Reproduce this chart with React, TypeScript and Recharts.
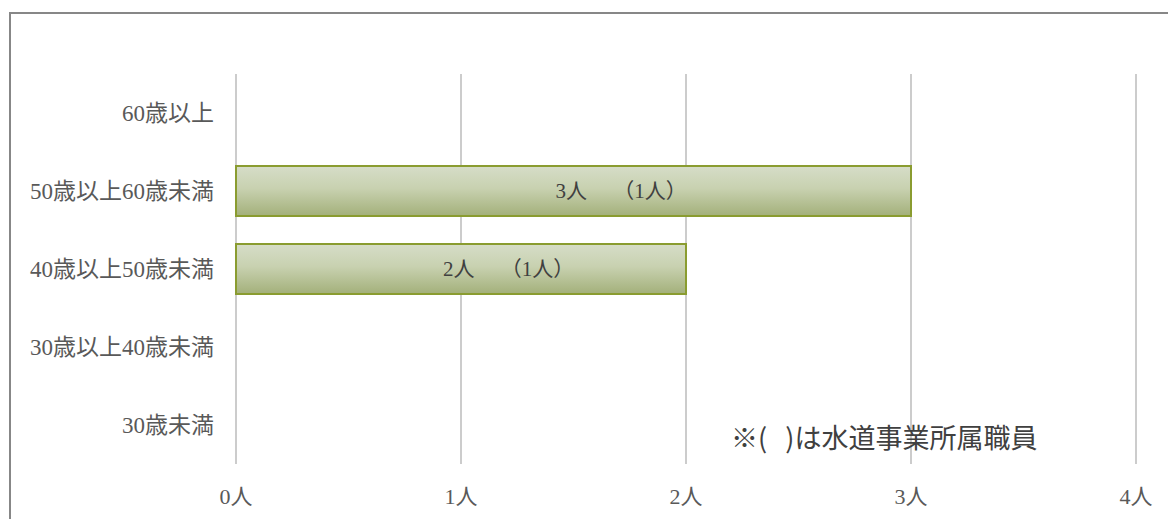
import React from "react";
import { BarChart, Bar, XAxis, YAxis, CartesianGrid, LabelList } from "recharts";

const categories = ["60歳以上", "50歳以上60歳未満", "40歳以上50歳未満", "30歳以上40歳未満", "30歳未満"];
const totalStaff = [0, 3, 2, 0, 0];
const waterStaff = [0, 1, 1, 0, 0];
const xTicks = [0, 1, 2, 3, 4];
const unit = "人";
const note = "※(   )は水道事業所属職員";

const data = categories.map((name, i) => ({
  name,
  total: totalStaff[i],
  water: waterStaff[i],
  label: totalStaff[i] ? `${totalStaff[i]}${unit}　 （${waterStaff[i]}${unit}）` : "",
}));

const SERIF = '"Liberation Serif", "Noto Sans CJK JP", serif';
const SANS = '"Noto Sans CJK JP", sans-serif';

const YTick = (props: any) => {
  const { x, y, payload } = props;
  return (
    <text x={x} y={y} dx={-14} dy={8} textAnchor="end" fill="#595959" fontSize={23} fontFamily={SERIF}>
      {payload.value}
    </text>
  );
};

const XTick = (props: any) => {
  const { x, y, payload } = props;
  return (
    <text x={x} y={y} dy={32} textAnchor="middle" fill="#595959" fontSize={22} fontFamily={SERIF}>
      {`${payload.value}${unit}`}
    </text>
  );
};

const BarLabel = (props: any) => {
  const { x, y, width, height, value } = props;
  if (!value) return null;
  return (
    <text
      x={x + width / 2 - 18}
      y={y + height / 2}
      dy={7}
      textAnchor="start"
      fill="#404040"
      fontSize={21}
      fontFamily={SERIF}
      style={{ whiteSpace: "pre" }}
    >
      {value}
    </text>
  );
};

export default function App() {
  return (
    <div style={{ position: "absolute", left: 0, top: 0, width: 1168, height: 519, overflow: "hidden", background: "#fff" }}>
      <div
        style={{
          position: "absolute",
          left: 9,
          top: 12,
          width: 1300,
          height: 700,
          border: "2px solid #878787",
          boxSizing: "border-box",
        }}
      />
      <div style={{ position: "absolute", left: 0, top: 0 }}>
        <BarChart
          width={1168}
          height={519}
          data={data}
          layout="vertical"
          margin={{ top: 74, right: 32, left: 0, bottom: 15 }}
          barCategoryGap={0}
        >
          <CartesianGrid horizontal={false} vertical={true} stroke="#cccccc" strokeWidth={2} />
          <XAxis
            type="number"
            domain={[0, 4]}
            ticks={xTicks}
            axisLine={false}
            tickLine={false}
            height={40}
            tick={<XTick />}
            interval={0}
          />
          <YAxis
            type="category"
            dataKey="name"
            width={236}
            axisLine={false}
            tickLine={false}
            tick={<YTick />}
            interval={0}
          />
          <defs>
            <linearGradient id="barGrad" x1="0" y1="0" x2="0" y2="1">
              <stop offset="0%" stopColor="#d6ddc8" />
              <stop offset="45%" stopColor="#c8d1b0" />
              <stop offset="100%" stopColor="#a3b07a" />
            </linearGradient>
          </defs>
          <Bar
            dataKey="total"
            barSize={50}
            fill="url(#barGrad)"
            stroke="#8a9c30"
            strokeWidth={2}
            isAnimationActive={false}
          >
            <LabelList dataKey="label" content={<BarLabel />} />
          </Bar>
        </BarChart>
      </div>
      <div
        style={{
          position: "absolute",
          left: 731,
          top: 420,
          fontFamily: SANS,
          fontSize: 27,
          color: "#404040",
          lineHeight: "34px",
          whiteSpace: "pre",
        }}
      >
        {note}
      </div>
    </div>
  );
}
